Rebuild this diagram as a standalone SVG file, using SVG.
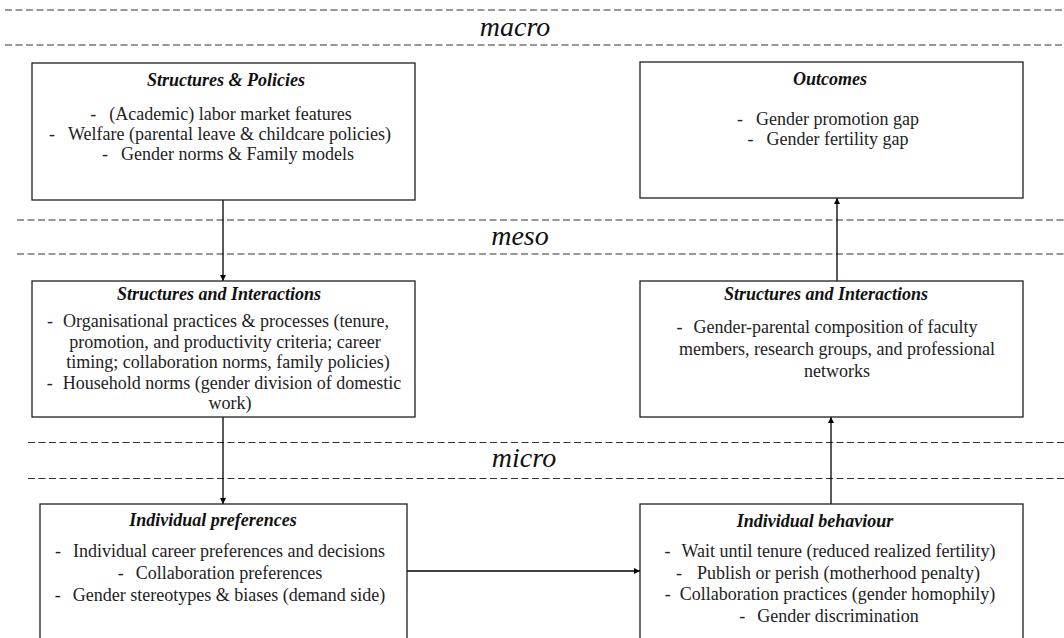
<svg xmlns="http://www.w3.org/2000/svg" width="1064" height="638" viewBox="0 0 1064 638">
<defs>
<style>
.bg{fill:#ffffff}
.box{fill:#ffffff;stroke:#1f1f1f;stroke-width:1.3}
.dash{stroke:#333333;stroke-width:1.2;stroke-dasharray:7 3.5;fill:none}
.conn{stroke:#000000;stroke-width:1.3;fill:none}
.lvl{font-family:"Liberation Serif","Times New Roman",serif;font-style:italic;font-size:28px;fill:#111;text-anchor:middle}
.ttl{font-family:"Liberation Serif","Times New Roman",serif;font-style:italic;font-weight:bold;font-size:18px;fill:#111;text-anchor:middle}
.txt{font-family:"Liberation Serif","Times New Roman",serif;font-size:18px;fill:#222;text-anchor:middle}
</style>
<marker id="ah" viewBox="0 0 10 10" refX="10" refY="5" markerWidth="6" markerHeight="6" markerUnits="userSpaceOnUse" orient="auto">
<path d="M0,0 L10,5 L0,10 z" fill="#000"/>
</marker>
</defs>
<rect class="bg" x="0" y="0" width="1064" height="638"/>
<g id="levels">
<line class="dash" x1="5" y1="10" x2="1062" y2="10"/>
<line class="dash" x1="5" y1="45" x2="1062" y2="45"/>
<text class="lvl" x="515" y="36">macro</text>
<line class="dash" x1="17" y1="220" x2="1064" y2="220"/>
<line class="dash" x1="17" y1="254" x2="1064" y2="254"/>
<text class="lvl" x="520" y="245">meso</text>
<line class="dash" x1="28" y1="442.5" x2="1064" y2="442.5"/>
<line class="dash" x1="28" y1="478.5" x2="1064" y2="478.5"/>
<text class="lvl" x="524" y="467">micro</text>
</g>
<g id="connectors">
<line class="conn" x1="223" y1="200" x2="223" y2="281" marker-end="url(#ah)"/>
<line class="conn" x1="837" y1="281" x2="837" y2="198" marker-end="url(#ah)"/>
<line class="conn" x1="223" y1="417" x2="223" y2="504" marker-end="url(#ah)"/>
<line class="conn" x1="831" y1="504" x2="831" y2="417" marker-end="url(#ah)"/>
<line class="conn" x1="407" y1="571" x2="640" y2="571" marker-end="url(#ah)"/>
</g>
<g id="structures-policies">
<rect class="box" x="32" y="63" width="383" height="137"/>
<text class="ttl" x="226" y="86">Structures &amp; Policies</text>
<text class="txt" x="221" y="120">-<tspan dx="13">(Academic) labor market features</tspan></text>
<text class="txt" x="220" y="140">-<tspan dx="13">Welfare (parental leave &amp; childcare policies)</tspan></text>
<text class="txt" x="228" y="160">-<tspan dx="13">Gender norms &amp; Family models</tspan></text>
</g>
<g id="outcomes">
<rect class="box" x="640" y="62" width="383" height="136"/>
<text class="ttl" x="830" y="85">Outcomes</text>
<text class="txt" x="828" y="125">-<tspan dx="13">Gender promotion gap</tspan></text>
<text class="txt" x="828" y="145">-<tspan dx="13">Gender fertility gap</tspan></text>
</g>
<g id="meso-left">
<rect class="box" x="32" y="281" width="383" height="136"/>
<text class="ttl" x="219" y="300">Structures and Interactions</text>
<text class="txt" x="218" y="327">-<tspan dx="10">Organisational practices &amp; processes (tenure,</tspan></text>
<text class="txt" x="225" y="347.5">promotion, and productivity criteria; career</text>
<text class="txt" x="228" y="368">timing; collaboration norms, family policies)</text>
<text class="txt" x="224" y="388.5">-<tspan dx="10">Household norms (gender division of domestic</tspan></text>
<text class="txt" x="230" y="409">work)</text>
</g>
<g id="meso-right">
<rect class="box" x="640" y="281" width="383" height="136"/>
<text class="ttl" x="826" y="300">Structures and Interactions</text>
<text class="txt" x="827" y="333">-<tspan dx="11">Gender-parental composition of faculty</tspan></text>
<text class="txt" x="837" y="355">members, research groups, and professional</text>
<text class="txt" x="837" y="377">networks</text>
</g>
<g id="micro-left">
<rect class="box" x="40" y="504" width="367" height="140"/>
<text class="ttl" x="213" y="526">Individual preferences</text>
<text class="txt" x="220" y="557">-<tspan dx="12">Individual career preferences and decisions</tspan></text>
<text class="txt" x="220" y="579">-<tspan dx="12">Collaboration preferences</tspan></text>
<text class="txt" x="220" y="601">-<tspan dx="12">Gender stereotypes &amp; biases (demand side)</tspan></text>
</g>
<g id="micro-right">
<rect class="box" x="640" y="504" width="383" height="140"/>
<text class="ttl" x="815" y="527">Individual behaviour</text>
<text class="txt" x="830" y="557">-<tspan dx="11">Wait until tenure (reduced realized fertility)</tspan></text>
<text class="txt" x="828" y="578.5">-<tspan dx="15">Publish or perish (motherhood penalty)</tspan></text>
<text class="txt" x="830" y="600">-<tspan dx="9">Collaboration practices (gender homophily)</tspan></text>
<text class="txt" x="829" y="621.5">-<tspan dx="12">Gender discrimination</tspan></text>
</g>
</svg>
